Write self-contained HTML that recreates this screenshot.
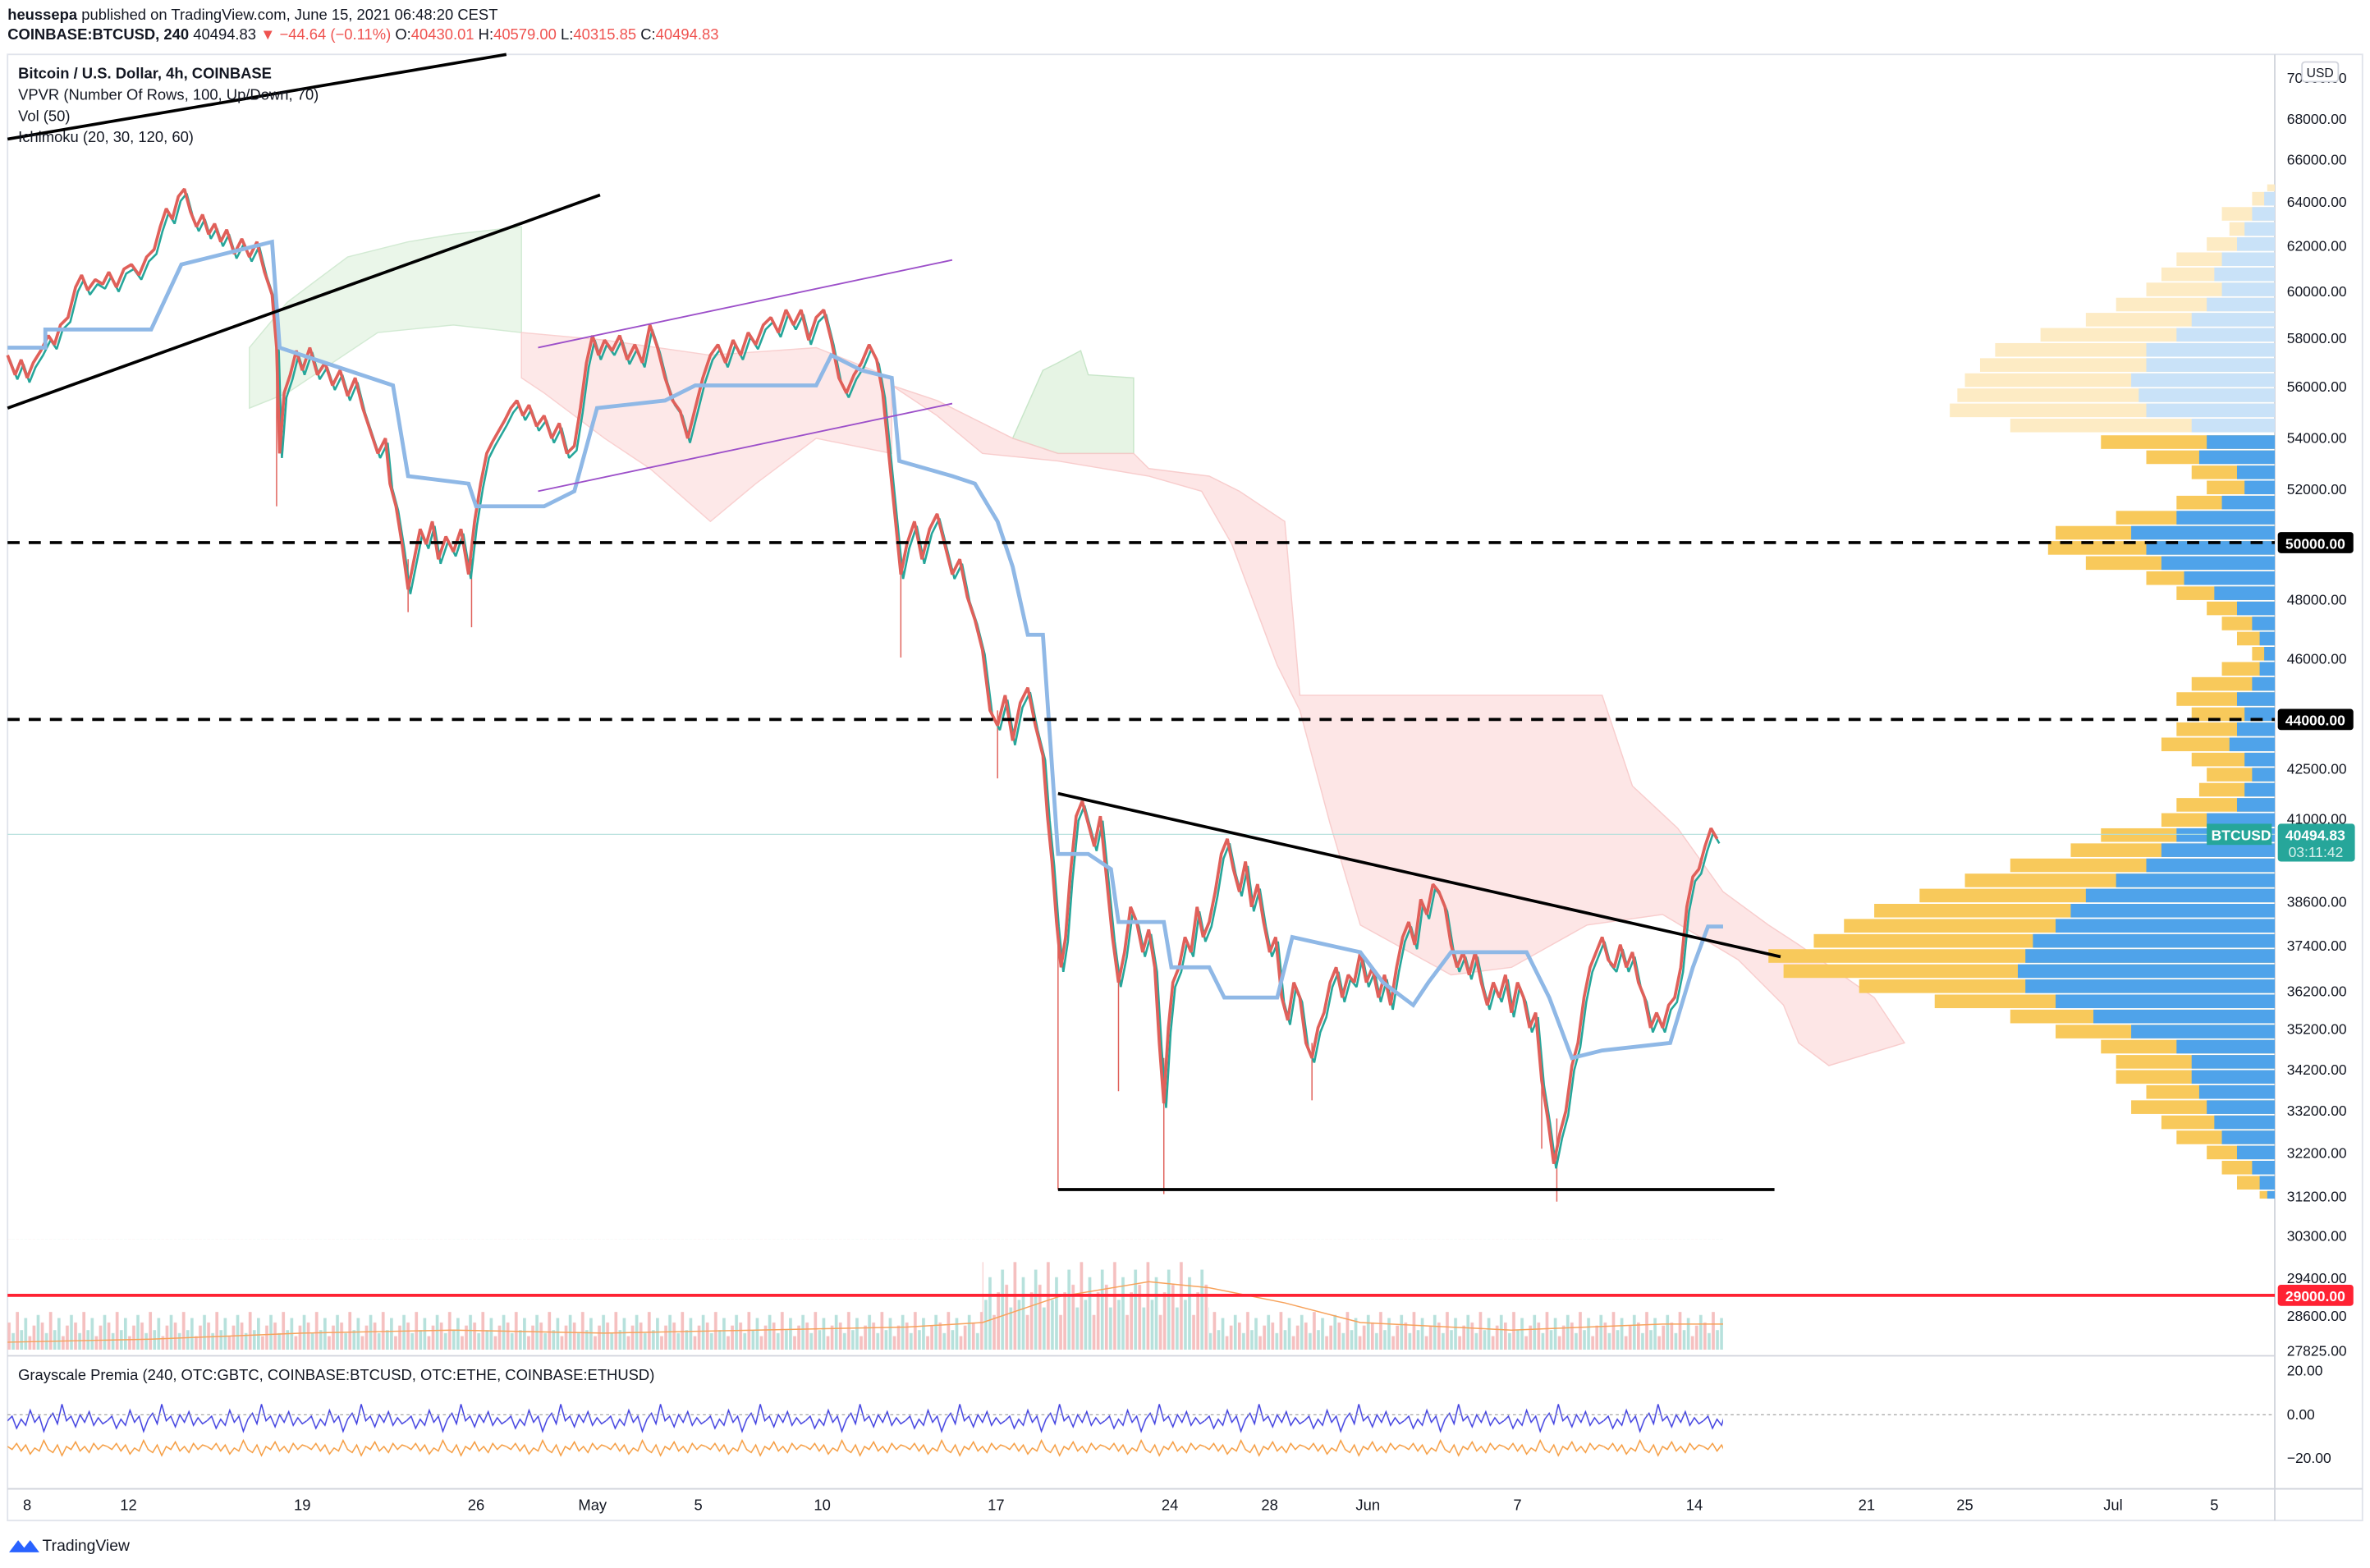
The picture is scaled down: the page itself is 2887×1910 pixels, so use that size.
<!DOCTYPE html>
<html><head><meta charset="utf-8"><style>
html,body{margin:0;padding:0;background:#fff;}
svg{display:block;font-family:"Liberation Sans",sans-serif;}
</style></head><body>
<svg width="2887" height="1910" viewBox="0 0 1568 1037.4" preserveAspectRatio="none" xmlns="http://www.w3.org/2000/svg">
<defs>
<pattern id="vlo" x="5" y="820" width="22" height="73" patternUnits="userSpaceOnUse">
<rect x="0" y="55" width="2" height="18" fill="#f5c0c0"/><rect x="2.75" y="62" width="2" height="11" fill="#b7e1dc"/><rect x="5.5" y="48" width="2" height="25" fill="#f5c0c0"/><rect x="8.25" y="60" width="2" height="13" fill="#b7e1dc"/><rect x="11" y="52" width="2" height="21" fill="#b7e1dc"/><rect x="13.75" y="64" width="2" height="9" fill="#f5c0c0"/><rect x="16.5" y="57" width="2" height="16" fill="#f5c0c0"/><rect x="19.25" y="50" width="2" height="23" fill="#b7e1dc"/>
</pattern>
<pattern id="vhi" x="5" y="820" width="22" height="73" patternUnits="userSpaceOnUse">
<rect x="0" y="30" width="2" height="43" fill="#f5c0c0"/><rect x="2.75" y="45" width="2" height="28" fill="#b7e1dc"/><rect x="5.5" y="15" width="2" height="58" fill="#f5c0c0"/><rect x="8.25" y="40" width="2" height="33" fill="#b7e1dc"/><rect x="11" y="25" width="2" height="48" fill="#b7e1dc"/><rect x="13.75" y="50" width="2" height="23" fill="#f5c0c0"/><rect x="16.5" y="35" width="2" height="38" fill="#f5c0c0"/><rect x="19.25" y="20" width="2" height="53" fill="#b7e1dc"/>
</pattern>
<pattern id="ib" x="5" y="915" width="66" height="60" patternUnits="userSpaceOnUse">
<polyline points="0,25 3,22 6,30 9,24 12,28 15,18 18,26 21,22 24,32 27,24 30,20 33,27 36,14 39,25 42,22 45,29 48,21 51,26 54,19 57,28 60,23 63,27 66,25" fill="none" stroke="#3f3fe0" stroke-width="0.8"/>
<polyline points="0,42 3,44 6,40 9,45 12,41 15,47 18,43 21,45 24,38 27,44 30,46 33,41 36,48 39,42 42,44 45,39 48,45 51,42 54,46 57,40 60,44 63,41 66,42" fill="none" stroke="#f59a3c" stroke-width="0.8"/>
</pattern>
</defs>
<rect width="1568" height="1037.4" fill="#fff"/>
<text x="5" y="13" font-size="10" fill="#131722"><tspan font-weight="bold">heussepa</tspan> published on TradingView.com, June 15, 2021 06:48:20 CEST</text>
<text x="5" y="26" font-size="10" fill="#131722"><tspan font-weight="bold">COINBASE:BTCUSD, 240</tspan> 40494.83 <tspan fill="#ef5350">▼ −44.64 (−0.11%)</tspan> O:<tspan fill="#ef5350">40430.01</tspan> H:<tspan fill="#ef5350">40579.00</tspan> L:<tspan fill="#ef5350">40315.85</tspan> C:<tspan fill="#ef5350">40494.83</tspan></text>
<rect x="5" y="36" width="1558" height="970" fill="none" stroke="#e0e3eb"/>
<line x1="1505" y1="36" x2="1505" y2="1006" stroke="#d1d4dc"/>
<line x1="5" y1="897" x2="1505" y2="897" stroke="#d1d4dc"/>
<line x1="5" y1="985" x2="1563" y2="985" stroke="#d1d4dc"/>
<polygon points="165,230 190,200 230,170 270,160 300,155 345,150 345,220 300,215 250,220 190,260 165,270" fill="#e6f4e4" opacity="0.8" stroke="#c8e6c9" stroke-width="0.8"/>
<polygon points="345,220 400,225 470,235 540,230 590,250 590,300 540,290 500,320 470,345 430,310 400,290 360,260 345,250" fill="#fde4e4" opacity="0.85" stroke="#f8c8c8" stroke-width="0.8"/>
<polygon points="670,290 690,245 700,240 715,232 720,248 750,250 750,300 700,300" fill="#e6f4e4" stroke="#c8e6c9" stroke-width="0.8"/>
<polygon points="590,255 620,265 670,290 700,300 750,300 760,310 800,315 820,325 850,345 860,460 1060,460 1080,520 1110,548 1140,590 1170,612 1190,625 1240,660 1260,690 1210,705 1190,690 1180,665 1150,635 1100,605 1050,612 1000,640 960,645 900,612 880,545 860,470 845,440 830,400 815,360 795,325 760,315 700,305 650,300 620,275" fill="#fde4e4" opacity="0.9" stroke="#f8c8c8" stroke-width="0.8"/>
<g>
<rect x="1500" y="122" width="5" height="4.5" fill="#fdebc4"/>
<rect x="1490" y="127" width="15" height="9" fill="#fdebc4"/><rect x="1498" y="127" width="7" height="9" fill="#c9e2f8"/>
<rect x="1470" y="137" width="35" height="9" fill="#fdebc4"/><rect x="1490" y="137" width="15" height="9" fill="#c9e2f8"/>
<rect x="1475" y="147" width="30" height="9" fill="#fdebc4"/><rect x="1485" y="147" width="20" height="9" fill="#c9e2f8"/>
<rect x="1460" y="157" width="45" height="9" fill="#fdebc4"/><rect x="1480" y="157" width="25" height="9" fill="#c9e2f8"/>
<rect x="1440" y="167" width="65" height="9" fill="#fdebc4"/><rect x="1470" y="167" width="35" height="9" fill="#c9e2f8"/>
<rect x="1430" y="177" width="75" height="9" fill="#fdebc4"/><rect x="1465" y="177" width="40" height="9" fill="#c9e2f8"/>
<rect x="1420" y="187" width="85" height="9" fill="#fdebc4"/><rect x="1470" y="187" width="35" height="9" fill="#c9e2f8"/>
<rect x="1400" y="197" width="105" height="9" fill="#fdebc4"/><rect x="1460" y="197" width="45" height="9" fill="#c9e2f8"/>
<rect x="1380" y="207" width="125" height="9" fill="#fdebc4"/><rect x="1450" y="207" width="55" height="9" fill="#c9e2f8"/>
<rect x="1350" y="217" width="155" height="9" fill="#fdebc4"/><rect x="1440" y="217" width="65" height="9" fill="#c9e2f8"/>
<rect x="1320" y="227" width="185" height="9" fill="#fdebc4"/><rect x="1420" y="227" width="85" height="9" fill="#c9e2f8"/>
<rect x="1310" y="237" width="195" height="9" fill="#fdebc4"/><rect x="1420" y="237" width="85" height="9" fill="#c9e2f8"/>
<rect x="1300" y="247" width="205" height="9" fill="#fdebc4"/><rect x="1410" y="247" width="95" height="9" fill="#c9e2f8"/>
<rect x="1295" y="257" width="210" height="9" fill="#fdebc4"/><rect x="1415" y="257" width="90" height="9" fill="#c9e2f8"/>
<rect x="1290" y="267" width="215" height="9" fill="#fdebc4"/><rect x="1420" y="267" width="85" height="9" fill="#c9e2f8"/>
<rect x="1330" y="277" width="175" height="9" fill="#fdebc4"/><rect x="1450" y="277" width="55" height="9" fill="#c9e2f8"/>
</g>
<g fill="#f8c95b">
<rect x="1390" y="288" width="115" height="9"/><rect x="1420" y="298" width="85" height="9"/><rect x="1450" y="308" width="55" height="9"/><rect x="1460" y="318" width="45" height="9"/><rect x="1440" y="328" width="65" height="9"/><rect x="1400" y="338" width="105" height="9"/><rect x="1360" y="348" width="145" height="9"/><rect x="1355" y="358" width="150" height="9"/><rect x="1380" y="368" width="125" height="9"/><rect x="1420" y="378" width="85" height="9"/><rect x="1440" y="388" width="65" height="9"/><rect x="1460" y="398" width="45" height="9"/><rect x="1470" y="408" width="35" height="9"/><rect x="1480" y="418" width="25" height="9"/><rect x="1490" y="428" width="15" height="9"/><rect x="1470" y="438" width="35" height="9"/><rect x="1450" y="448" width="55" height="9"/><rect x="1440" y="458" width="65" height="9"/><rect x="1450" y="468" width="55" height="9"/><rect x="1440" y="478" width="65" height="9"/><rect x="1430" y="488" width="75" height="9"/><rect x="1450" y="498" width="55" height="9"/><rect x="1460" y="508" width="45" height="9"/><rect x="1455" y="518" width="50" height="9"/><rect x="1440" y="528" width="65" height="9"/><rect x="1430" y="538" width="75" height="9"/><rect x="1390" y="548" width="115" height="9"/><rect x="1370" y="558" width="135" height="9"/><rect x="1330" y="568" width="175" height="9"/><rect x="1300" y="578" width="205" height="9"/><rect x="1270" y="588" width="235" height="9"/><rect x="1240" y="598" width="265" height="9"/><rect x="1220" y="608" width="285" height="9"/><rect x="1200" y="618" width="305" height="9"/><rect x="1170" y="628" width="335" height="9"/><rect x="1180" y="638" width="325" height="9"/><rect x="1230" y="648" width="275" height="9"/><rect x="1280" y="658" width="225" height="9"/><rect x="1330" y="668" width="175" height="9"/><rect x="1360" y="678" width="145" height="9"/><rect x="1390" y="688" width="115" height="9"/><rect x="1400" y="698" width="105" height="9"/><rect x="1400" y="708" width="105" height="9"/><rect x="1420" y="718" width="85" height="9"/><rect x="1410" y="728" width="95" height="9"/><rect x="1430" y="738" width="75" height="9"/><rect x="1440" y="748" width="65" height="9"/><rect x="1460" y="758" width="45" height="9"/><rect x="1470" y="768" width="35" height="9"/><rect x="1480" y="778" width="25" height="9"/><rect x="1495" y="788" width="10" height="5"/>
</g>
<g fill="#4fa3ea">
<rect x="1460" y="288" width="45" height="9"/><rect x="1455" y="298" width="50" height="9"/><rect x="1480" y="308" width="25" height="9"/><rect x="1485" y="318" width="20" height="9"/><rect x="1470" y="328" width="35" height="9"/><rect x="1440" y="338" width="65" height="9"/><rect x="1410" y="348" width="95" height="9"/><rect x="1420" y="358" width="85" height="9"/><rect x="1430" y="368" width="75" height="9"/><rect x="1445" y="378" width="60" height="9"/><rect x="1465" y="388" width="40" height="9"/><rect x="1480" y="398" width="25" height="9"/><rect x="1490" y="408" width="15" height="9"/><rect x="1495" y="418" width="10" height="9"/><rect x="1498" y="428" width="7" height="9"/><rect x="1495" y="438" width="10" height="9"/><rect x="1490" y="448" width="15" height="9"/><rect x="1480" y="458" width="25" height="9"/><rect x="1485" y="468" width="20" height="9"/><rect x="1480" y="478" width="25" height="9"/><rect x="1475" y="488" width="30" height="9"/><rect x="1485" y="498" width="20" height="9"/><rect x="1490" y="508" width="15" height="9"/><rect x="1485" y="518" width="20" height="9"/><rect x="1480" y="528" width="25" height="9"/><rect x="1460" y="538" width="45" height="9"/><rect x="1440" y="548" width="65" height="9"/><rect x="1430" y="558" width="75" height="9"/><rect x="1420" y="568" width="85" height="9"/><rect x="1400" y="578" width="105" height="9"/><rect x="1380" y="588" width="125" height="9"/><rect x="1370" y="598" width="135" height="9"/><rect x="1360" y="608" width="145" height="9"/><rect x="1345" y="618" width="160" height="9"/><rect x="1340" y="628" width="165" height="9"/><rect x="1335" y="638" width="170" height="9"/><rect x="1340" y="648" width="165" height="9"/><rect x="1360" y="658" width="145" height="9"/><rect x="1385" y="668" width="120" height="9"/><rect x="1410" y="678" width="95" height="9"/><rect x="1440" y="688" width="65" height="9"/><rect x="1450" y="698" width="55" height="9"/><rect x="1450" y="708" width="55" height="9"/><rect x="1455" y="718" width="50" height="9"/><rect x="1460" y="728" width="45" height="9"/><rect x="1465" y="738" width="40" height="9"/><rect x="1470" y="748" width="35" height="9"/><rect x="1480" y="758" width="25" height="9"/><rect x="1490" y="768" width="15" height="9"/><rect x="1495" y="778" width="10" height="9"/><rect x="1500" y="788" width="5" height="5"/>
</g>
<line x1="5" y1="552" x2="1505" y2="552" stroke="#b2dfdb" stroke-width="0.6"/>
<rect x="5" y="820" width="645" height="73" fill="url(#vlo)"/>
<rect x="650" y="820" width="150" height="73" fill="url(#vhi)"/>
<rect x="800" y="820" width="340" height="73" fill="url(#vlo)"/>
<polyline points="5,888 100,886 200,882 300,880 400,882 500,880 600,878 650,875 700,858 760,848 800,852 850,862 900,875 1000,880 1100,876 1140,876" fill="none" stroke="#f7a25b" stroke-width="0.8"/>
<g stroke="#e0605a" stroke-width="0.8">
<line x1="183" y1="230" x2="183" y2="335"/><line x1="700" y1="610" x2="700" y2="787"/><line x1="770" y1="700" x2="770" y2="790"/><line x1="1030" y1="740" x2="1030" y2="795"/><line x1="596" y1="370" x2="596" y2="435"/><line x1="312" y1="370" x2="312" y2="415"/><line x1="740" y1="640" x2="740" y2="722"/><line x1="270" y1="370" x2="270" y2="405"/><line x1="660" y1="470" x2="660" y2="515"/><line x1="868" y1="690" x2="868" y2="728"/><line x1="1020" y1="700" x2="1020" y2="760"/>
</g>
<polyline fill="none" stroke="#26a69a" stroke-width="1.4" stroke-linejoin="bevel" transform="translate(1.5,3)" points="5,235 10,248 14,238 18,250 22,240 27,232 32,222 36,228 40,215 45,210 50,190 54,182 58,192 63,185 68,188 72,180 77,190 82,178 87,175 92,182 97,170 102,165 106,150 110,138 114,145 118,130 122,125 126,140 130,150 134,142 138,155 142,148 146,160 150,152 155,168 160,158 165,170 170,160 175,180 180,195 183,230 185,300 188,260 192,248 196,232 200,245 205,230 210,248 215,240 220,255 225,245 230,262 235,250 240,270 245,285 250,300 255,290 258,320 262,335 266,360 270,390 274,370 278,350 282,360 286,345 290,370 295,355 300,365 305,350 310,380 314,345 318,320 322,300 326,292 330,285 334,278 338,270 342,265 346,275 350,268 355,282 360,275 365,290 370,280 375,300 380,295 384,270 388,240 392,222 396,235 400,225 405,232 410,222 415,238 420,228 425,240 430,215 435,230 440,250 445,265 450,272 455,290 460,270 465,250 470,235 475,228 480,240 485,225 490,235 495,220 500,228 505,215 510,210 515,220 520,205 525,215 530,205 535,225 540,210 545,205 550,225 555,250 560,260 565,248 570,240 575,228 580,238 584,260 588,300 592,340 596,380 600,360 605,345 610,370 615,350 620,340 625,360 630,380 635,370 640,395 645,410 650,430 655,470 660,480 665,460 670,490 675,465 680,455 685,480 690,500 693,540 696,570 699,610 702,640 705,620 708,580 712,540 716,530 720,545 724,560 728,540 732,580 736,620 740,650 744,630 748,600 752,610 756,630 760,615 764,640 767,690 770,730 773,680 776,650 780,640 784,620 788,630 792,600 796,620 800,610 804,590 808,565 812,555 816,575 820,590 824,570 828,600 832,585 836,610 840,630 844,620 848,660 852,675 856,650 860,660 864,690 868,700 872,680 876,670 880,650 884,640 888,660 892,645 896,650 900,630 904,650 908,640 912,660 916,645 920,665 924,640 928,620 932,610 936,625 940,595 944,605 948,585 952,590 956,600 960,625 964,640 968,630 972,645 976,630 980,650 984,665 988,650 992,660 996,645 1000,670 1004,650 1008,660 1012,680 1016,670 1020,715 1024,740 1028,770 1032,750 1036,735 1040,705 1044,690 1048,660 1052,640 1056,630 1060,620 1064,635 1068,640 1072,625 1076,640 1080,630 1084,650 1088,660 1092,680 1096,670 1100,680 1104,665 1108,660 1112,640 1116,600 1120,580 1124,575 1128,560 1132,548 1136,555"/>
<polyline fill="none" stroke="#e0605a" stroke-width="2" stroke-linejoin="bevel" points="5,235 10,248 14,238 18,250 22,240 27,232 32,222 36,228 40,215 45,210 50,190 54,182 58,192 63,185 68,188 72,180 77,190 82,178 87,175 92,182 97,170 102,165 106,150 110,138 114,145 118,130 122,125 126,140 130,150 134,142 138,155 142,148 146,160 150,152 155,168 160,158 165,170 170,160 175,180 180,195 183,230 185,300 188,260 192,248 196,232 200,245 205,230 210,248 215,240 220,255 225,245 230,262 235,250 240,270 245,285 250,300 255,290 258,320 262,335 266,360 270,390 274,370 278,350 282,360 286,345 290,370 295,355 300,365 305,350 310,380 314,345 318,320 322,300 326,292 330,285 334,278 338,270 342,265 346,275 350,268 355,282 360,275 365,290 370,280 375,300 380,295 384,270 388,240 392,222 396,235 400,225 405,232 410,222 415,238 420,228 425,240 430,215 435,230 440,250 445,265 450,272 455,290 460,270 465,250 470,235 475,228 480,240 485,225 490,235 495,220 500,228 505,215 510,210 515,220 520,205 525,215 530,205 535,225 540,210 545,205 550,225 555,250 560,260 565,248 570,240 575,228 580,238 584,260 588,300 592,340 596,380 600,360 605,345 610,370 615,350 620,340 625,360 630,380 635,370 640,395 645,410 650,430 655,470 660,480 665,460 670,490 675,465 680,455 685,480 690,500 693,540 696,570 699,610 702,640 705,620 708,580 712,540 716,530 720,545 724,560 728,540 732,580 736,620 740,650 744,630 748,600 752,610 756,630 760,615 764,640 767,690 770,730 773,680 776,650 780,640 784,620 788,630 792,600 796,620 800,610 804,590 808,565 812,555 816,575 820,590 824,570 828,600 832,585 836,610 840,630 844,620 848,660 852,675 856,650 860,660 864,690 868,700 872,680 876,670 880,650 884,640 888,660 892,645 896,650 900,630 904,650 908,640 912,660 916,645 920,665 924,640 928,620 932,610 936,625 940,595 944,605 948,585 952,590 956,600 960,625 964,640 968,630 972,645 976,630 980,650 984,665 988,650 992,660 996,645 1000,670 1004,650 1008,660 1012,680 1016,670 1020,715 1024,740 1028,770 1032,750 1036,735 1040,705 1044,690 1048,660 1052,640 1056,630 1060,620 1064,635 1068,640 1072,625 1076,640 1080,630 1084,650 1088,660 1092,680 1096,670 1100,680 1104,665 1108,660 1112,640 1116,600 1120,580 1124,575 1128,560 1132,548 1136,555"/>
<polyline fill="none" stroke="#8fb8e6" stroke-width="2.6" points="5,230 30,230 30,218 45,218 100,218 120,175 160,165 180,160 185,230 260,255 270,315 310,320 315,335 360,335 380,325 395,270 440,265 460,255 540,255 550,235 570,245 590,250 595,305 630,315 645,320 660,345 670,375 680,420 690,420 700,565 720,565 735,575 740,610 770,610 775,640 800,640 810,660 845,660 855,620 900,630 915,650 935,665 945,650 960,630 1010,630 1025,660 1040,700 1060,695 1105,690 1120,640 1130,613 1140,613"/>
<line x1="5" y1="359" x2="1505" y2="359" stroke="#000" stroke-width="2" stroke-dasharray="8,6"/>
<line x1="5" y1="476" x2="1505" y2="476" stroke="#000" stroke-width="2" stroke-dasharray="8,6"/>
<line x1="5" y1="857" x2="1505" y2="857" stroke="#f23" stroke-width="2"/>
<line x1="5" y1="92" x2="335" y2="36" stroke="#000" stroke-width="2"/>
<line x1="5" y1="270" x2="397" y2="129" stroke="#000" stroke-width="2"/>
<line x1="700" y1="525" x2="1178" y2="633" stroke="#000" stroke-width="2"/>
<line x1="700" y1="787" x2="1174" y2="787" stroke="#000" stroke-width="2"/>
<line x1="356" y1="230" x2="630" y2="172" stroke="#9c4fc9" stroke-width="1"/>
<line x1="356" y1="325" x2="630" y2="267" stroke="#9c4fc9" stroke-width="1"/>
<g font-size="10" fill="#131722">
<text x="12" y="52" font-weight="bold">Bitcoin / U.S. Dollar, 4h, COINBASE</text>
<text x="12" y="66">VPVR (Number Of Rows, 100, Up/Down, 70)</text>
<text x="12" y="80">Vol (50)</text>
<text x="12" y="94">Ichimoku (20, 30, 120, 60)</text>
<text x="12" y="913">Grayscale Premia (240, OTC:GBTC, COINBASE:BTCUSD, OTC:ETHE, COINBASE:ETHUSD)</text>
</g>
<rect x="5" y="915" width="1135" height="60" fill="url(#ib)"/>
<line x1="5" y1="936" x2="1505" y2="936" stroke="#999" stroke-width="0.6" stroke-dasharray="2,2"/>
<g font-size="9.5" fill="#131722">
<text x="1513" y="55">70000.00</text><text x="1513" y="82">68000.00</text><text x="1513" y="109">66000.00</text><text x="1513" y="137">64000.00</text><text x="1513" y="166">62000.00</text><text x="1513" y="196">60000.00</text><text x="1513" y="227">58000.00</text><text x="1513" y="259">56000.00</text><text x="1513" y="293">54000.00</text><text x="1513" y="327">52000.00</text><text x="1513" y="400">48000.00</text><text x="1513" y="439">46000.00</text><text x="1513" y="512">42500.00</text><text x="1513" y="545">41000.00</text><text x="1513" y="600">38600.00</text><text x="1513" y="629">37400.00</text><text x="1513" y="659">36200.00</text><text x="1513" y="684">35200.00</text><text x="1513" y="711">34200.00</text><text x="1513" y="738">33200.00</text><text x="1513" y="766">32200.00</text><text x="1513" y="795">31200.00</text><text x="1513" y="821">30300.00</text><text x="1513" y="849">29400.00</text><text x="1513" y="874">28600.00</text><text x="1513" y="897">27825.00</text>
<text x="1513" y="910">20.00</text><text x="1513" y="939">0.00</text><text x="1513" y="968">−20.00</text>
</g>
<rect x="1523" y="41" width="24" height="13" rx="2" fill="#fff" stroke="#d1d4dc"/>
<text x="1526" y="51" font-size="8.5" fill="#131722">USD</text>
<rect x="1507" y="352" width="50" height="14" rx="2" fill="#000"/><text x="1512" y="363" font-size="9.5" fill="#fff" font-weight="bold">50000.00</text>
<rect x="1507" y="469" width="50" height="14" rx="2" fill="#000"/><text x="1512" y="480" font-size="9.5" fill="#fff" font-weight="bold">44000.00</text>
<rect x="1507" y="850" width="50" height="14" rx="2" fill="#f23"/><text x="1512" y="861" font-size="9.5" fill="#fff" font-weight="bold">29000.00</text>
<rect x="1507" y="545" width="51" height="25" rx="2" fill="#26a69a"/><text x="1512" y="556" font-size="9.5" fill="#fff" font-weight="bold">40494.83</text><text x="1514" y="567" font-size="9.5" fill="#d8f0ec">03:11:42</text>
<rect x="1460" y="545" width="43" height="14" fill="#26a69a"/><text x="1463" y="556" font-size="9.5" fill="#fff" font-weight="bold">BTCUSD</text>
<g font-size="10" fill="#131722" text-anchor="middle">
<text x="18" y="999">8</text><text x="85" y="999">12</text><text x="200" y="999">19</text><text x="315" y="999">26</text><text x="392" y="999">May</text><text x="462" y="999">5</text><text x="544" y="999">10</text><text x="659" y="999">17</text><text x="774" y="999">24</text><text x="840" y="999">28</text><text x="905" y="999">Jun</text><text x="1004" y="999">7</text><text x="1121" y="999">14</text><text x="1235" y="999">21</text><text x="1300" y="999">25</text><text x="1398" y="999">Jul</text><text x="1465" y="999">5</text>
</g>
<path d="M6,1027 l6,-8 l4,5 l4,-5 l6,8 z" fill="#2962ff"/>
<text x="28" y="1026" font-size="10.5" fill="#131722">TradingView</text>
</svg>
</body></html>
